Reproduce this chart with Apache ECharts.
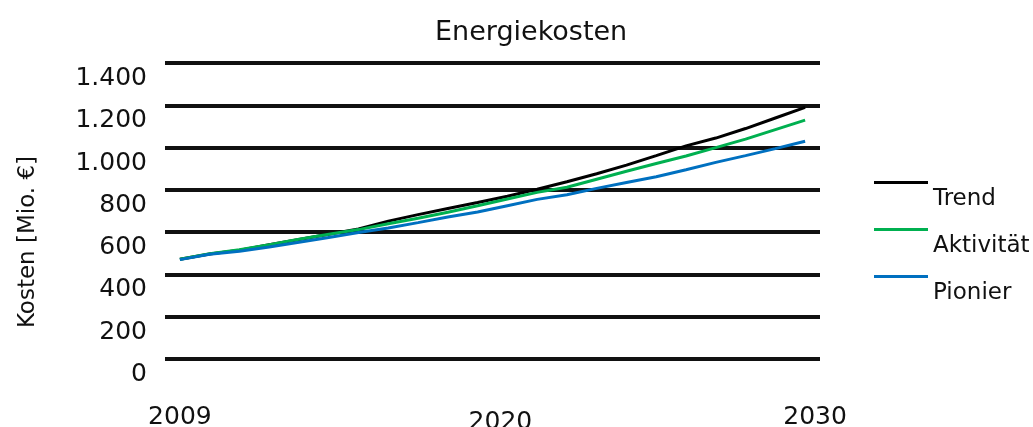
<!DOCTYPE html>
<html>
<head>
<meta charset="utf-8">
<script src="https://cdn.jsdelivr.net/npm/echarts@6/dist/echarts.min.js"></script>
<style>
  html, body { margin: 0; padding: 0; background: #fff; }
  #main { width: 1033px; height: 427px; }
</style>
</head>
<body>
<div id="main"></div>
<script>
// Jahre (Kategorien)
var years = ['2009', '2010', '2011', '2012', '2013', '2014', '2015', '2016', '2017', '2018', '2019',
  '2020', '2021', '2022', '2023', '2024', '2025', '2026', '2027', '2028', '2029', '2030']
// nur diese Jahre werden beschriftet
var shownYears = ['2009', '2020', '2030']
// Kosten in Mio. EUR
var trend = [472, 497, 515, 540, 565, 590, 615, 652, 683, 712, 740,
  770, 803, 838, 876, 917, 962, 1008, 1045, 1090, 1140, 1190]
var aktivitaet = [472, 498, 517, 541, 566, 590, 612, 640, 666, 694, 725,
  757, 788, 812, 850, 888, 925, 960, 1000, 1040, 1085, 1130]
var pionier = [470, 495, 510, 530, 552, 575, 598, 620, 645, 672, 695,
  725, 755, 777, 807, 835, 862, 895, 930, 962, 995, 1030]
var yTicks = [0, 200, 400, 600, 800, 1000, 1200, 1400]

var font = 'DejaVu Sans'
// Legendensymbol: Linie oben, Text darunter versetzt
var legendIcon = 'path://M0,0L54,0L54,3L0,3Z M0,35.9L0.05,35.9L0.05,36L0,36Z'

var option = {
    animation: false,
    textStyle: { fontFamily: font },
    title: {
        text: 'Energiekosten',
        left: 430,
        top: 14,
        textStyle: { fontFamily: font, fontSize: 27, fontWeight: 'normal', color: '#111' }
    },
    legend: {
        orient: 'vertical',
        left: 869,
        top: 176,
        itemWidth: 54,
        itemHeight: 36,
        itemGap: 11,
        icon: legendIcon,
        data: ['Trend', 'Aktivität', 'Pionier'],
        textStyle: { fontFamily: font, fontSize: 23, color: '#111' },
        selectedMode: false
    },
    grid: {
        left: 165,
        right: 213,
        top: 63,
        bottom: 68,
        outerBoundsMode: 'none'
    },
    xAxis: {
        type: 'category',
        data: years,
        boundaryGap: true,
        axisLine: { show: false },
        axisTick: { show: false },
        axisLabel: {
            interval: function (idx, val) { return shownYears.indexOf(val) >= 0 },
            margin: 46,
            formatter: function (val) {
                if (val === '2020') return '{b|' + val + '}'
                if (val === '2030') return '{c|' + val + '}'
                return '{a|' + val + '}'
            },
            rich: {
                a: { fontFamily: font, fontSize: 25, color: '#111' },
                b: { fontFamily: font, fontSize: 25, color: '#111', padding: [5, 14, 0, 0] },
                c: { fontFamily: font, fontSize: 25, color: '#111', padding: [0, 0, 0, 20] }
            }
        }
    },
    yAxis: {
        type: 'value',
        min: yTicks[0],
        max: yTicks[yTicks.length - 1],
        interval: 200,
        name: 'Kosten [Mio. €]',
        nameLocation: 'middle',
        nameRotate: 90,
        nameGap: 125,
        nameTextStyle: { fontFamily: font, fontSize: 23, color: '#111', padding: [0, 62, 0, 0] },
        axisLine: { show: false },
        axisTick: { show: false },
        axisLabel: {
            margin: 18,
            fontFamily: font,
            fontSize: 25,
            color: '#111',
            verticalAlign: 'top',
            padding: [3, 0, 0, 0],
            formatter: function (v) {
                return String(v).replace(/\B(?=(\d{3})+(?!\d))/g, '.')
            }
        },
        splitLine: { show: true, lineStyle: { color: '#111', width: 4 } }
    },
    series: [
        {
            name: 'Trend',
            type: 'line',
            data: trend,
            color: '#000000',
            symbol: 'none',
            lineStyle: { width: 3, color: '#000000' },
            z: 3
        },
        {
            name: 'Aktivität',
            type: 'line',
            data: aktivitaet,
            color: '#00b050',
            symbol: 'none',
            lineStyle: { width: 3, color: '#00b050' },
            z: 4
        },
        {
            name: 'Pionier',
            type: 'line',
            data: pionier,
            color: '#0070c0',
            symbol: 'none',
            lineStyle: { width: 3, color: '#0070c0' },
            z: 5
        }
    ]
}

var myChart = echarts.init(document.getElementById('main'))
myChart.setOption(option)
</script>
</body>
</html>
